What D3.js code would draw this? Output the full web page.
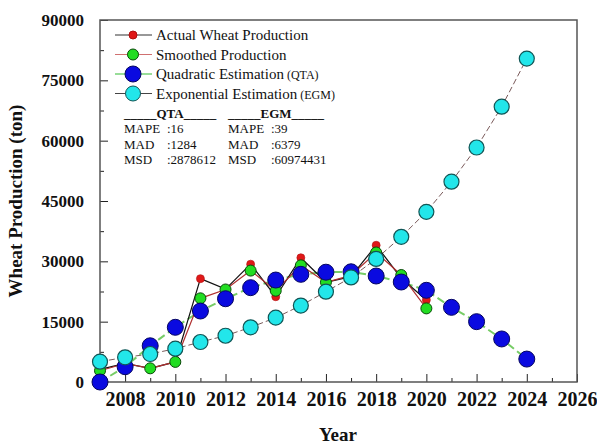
<!DOCTYPE html>
<html>
<head>
<meta charset="utf-8">
<script src="https://cdn.jsdelivr.net/npm/d3@7"></script>
<style>
  body { margin: 0; background: #fff; }
  svg text { font-family: "Liberation Serif", "Times New Roman", serif; }
</style>
</head>
<body>
<div id="chart"></div>
<script>
// data
const actualYears = [2007, 2008, 2009, 2010, 2011, 2012, 2013, 2014, 2015, 2016, 2017, 2018, 2019, 2020];
const actualValues = [3150, 4650, 3400, 5000, 25700, 23100, 29300, 21200, 30900, 24800, 26200, 34000, 25800, 20400];
const smoothedValues = [2800, 4600, 3400, 5000, 20800, 23000, 27700, 22700, 29000, 24800, 26500, 32200, 26600, 18300];

const forecastYears = [2007, 2008, 2009, 2010, 2011, 2012, 2013, 2014, 2015, 2016, 2017, 2018, 2019, 2020, 2021, 2022, 2023, 2024];
const qtaValues = [0, 3800, 9000, 13600, 17650, 20700, 23450, 25350, 26770, 27300, 27400, 26350, 24860, 22800, 18560, 15000, 10700, 5700];
const egmValues = [5050, 6130, 6960, 8280, 9940, 11500, 13600, 16000, 19000, 22450, 26000, 30600, 36100, 42300, 49800, 58300, 68450, 80400];

const yTicks = [0, 15000, 30000, 45000, 60000, 75000, 90000];
const xTicks = [2008, 2010, 2012, 2014, 2016, 2018, 2020, 2022, 2024, 2026];

const legendLabels = ["Actual Wheat Production", "Smoothed Production", "Quadratic Estimation", "Exponential Estimation"];
const legendTags = ["", "", "(QTA)", "(EGM)"];
const statNames = ["MAPE", "MAD", "MSD"];
const qtaStats = [":16", ":1284", ":2878612"];
const egmStats = [":39", ":6379", ":60974431"];

const W = 597, H = 444;
const margin = { left: 100, right: 20, top: 20, bottom: 62 };
const serif = "Liberation Serif, Times New Roman, serif";

const svg = d3.select("#chart").append("svg")
    .attr("width", W)
    .attr("height", H);

const x = d3.scaleLinear().domain([2007, 2026]).range([margin.left, W - margin.right]);
const y = d3.scaleLinear().domain([0, 90000]).range([H - margin.bottom, margin.top]);

// axes with inward ticks
const xMinor = d3.range(2007, 2026, 2);
const yMinor = d3.range(7500, 90000, 15000);

function styleTicks(g, size) {
    g.attr("font-family", serif);
    g.select(".domain").remove();
    g.selectAll("line").attr("stroke", "#222");
    g.selectAll("text").attr("font-size", size).attr("font-weight", "bold").attr("fill", "#111")
        .attr("font-family", serif);
}

svg.append("g")
    .attr("transform", `translate(0,${y(0)})`)
    .call(d3.axisBottom(x).tickValues(xTicks).tickFormat(d3.format("d")).tickSizeInner(-8).tickSizeOuter(0).tickPadding(10))
    .call(g => styleTicks(g, 20));

svg.append("g")
    .attr("transform", `translate(0,${y(0)})`)
    .call(d3.axisBottom(x).tickValues(xMinor).tickFormat("").tickSizeInner(-4).tickSizeOuter(0))
    .call(g => styleTicks(g, 10));

svg.append("g")
    .attr("transform", `translate(${x(2007)},0)`)
    .call(d3.axisLeft(y).tickValues(yTicks).tickFormat(d3.format("d")).tickSizeInner(-8).tickSizeOuter(0).tickPadding(16))
    .call(g => styleTicks(g, 17));

svg.append("g")
    .attr("transform", `translate(${x(2007)},0)`)
    .call(d3.axisLeft(y).tickValues(yMinor).tickFormat("").tickSizeInner(-4).tickSizeOuter(0))
    .call(g => styleTicks(g, 10));

// frame
svg.append("rect")
    .attr("x", x(2007)).attr("y", y(90000))
    .attr("width", x(2026) - x(2007)).attr("height", y(0) - y(90000))
    .attr("fill", "none").attr("stroke", "#555").attr("stroke-width", 1.5);

// axis titles
svg.append("text")
    .attr("x", 338).attr("y", 441)
    .attr("text-anchor", "middle")
    .attr("font-size", 19).attr("font-weight", "bold").attr("fill", "#111")
    .text("Year");

svg.append("text")
    .attr("transform", `translate(22,${(y(0) + y(90000)) / 2}) rotate(-90)`)
    .attr("text-anchor", "middle")
    .attr("font-size", 19).attr("font-weight", "bold").attr("fill", "#111")
    .text("Wheat Production (ton)");

const line = d3.line().x(d => x(d[0])).y(d => y(d[1]));
const plot = svg.append("g");

// Exponential line
plot.append("path")
    .datum(d3.zip(forecastYears, egmValues))
    .attr("d", line)
    .attr("fill", "none").attr("stroke", "#7a5a5a").attr("stroke-width", 1)
    .attr("stroke-dasharray", "6,3");

// Quadratic line
plot.append("path")
    .datum(d3.zip(forecastYears, qtaValues))
    .attr("d", line)
    .attr("fill", "none").attr("stroke", "#77cc66").attr("stroke-width", 2)
    .attr("stroke-dasharray", "8,4");

// Actual line
plot.append("path")
    .datum(d3.zip(actualYears, actualValues))
    .attr("d", line)
    .attr("fill", "none").attr("stroke", "#111").attr("stroke-width", 1.2);

// Smoothed line
plot.append("path")
    .datum(d3.zip(actualYears, smoothedValues))
    .attr("d", line)
    .attr("fill", "none").attr("stroke", "#b03030").attr("stroke-width", 1.2);

plot.selectAll(".actual").data(d3.zip(actualYears, actualValues)).join("circle")
    .attr("class", "actual")
    .attr("cx", d => x(d[0])).attr("cy", d => y(d[1])).attr("r", 4)
    .attr("fill", "#e01818").attr("stroke", "#b01010").attr("stroke-width", 0.6);

plot.selectAll(".smooth").data(d3.zip(actualYears, smoothedValues)).join("circle")
    .attr("class", "smooth")
    .attr("cx", d => x(d[0])).attr("cy", d => y(d[1])).attr("r", 5.5)
    .attr("fill", "#22dd22").attr("stroke", "#0a4a0a").attr("stroke-width", 1);

plot.selectAll(".qta").data(d3.zip(forecastYears, qtaValues)).join("circle")
    .attr("class", "qta")
    .attr("cx", d => x(d[0])).attr("cy", d => y(d[1])).attr("r", 8)
    .attr("fill", "#0a0ae0").attr("stroke", "#050560").attr("stroke-width", 1);

plot.selectAll(".egm").data(d3.zip(forecastYears, egmValues)).join("circle")
    .attr("class", "egm")
    .attr("cx", d => x(d[0])).attr("cy", d => y(d[1])).attr("r", 7.5)
    .attr("fill", "#22e6ea").attr("stroke", "#115555").attr("stroke-width", 1.2);

// legend
const legendStyles = [
    { line: "#333", fill: "#e01818", stroke: "#b01010", r: 4 },
    { line: "#d07070", fill: "#22dd22", stroke: "#0a4a0a", r: 5.5 },
    { line: "#33bb33", fill: "#0a0ae0", stroke: "#050560", r: 8 },
    { line: "#444", fill: "#22e6ea", stroke: "#115555", r: 7.5 }
];
const legendY = [35, 54.5, 74, 93.5];
const legend = svg.append("g");
legendLabels.forEach((label, i) => {
    const g = legend.append("g").attr("transform", `translate(0,${legendY[i]})`);
    g.append("line").attr("x1", 115).attr("x2", 152).attr("y1", 0).attr("y2", 0)
        .attr("stroke", legendStyles[i].line).attr("stroke-width", 1.2);
    g.append("circle").attr("cx", 133).attr("cy", 0).attr("r", legendStyles[i].r)
        .attr("fill", legendStyles[i].fill).attr("stroke", legendStyles[i].stroke).attr("stroke-width", 1);
    const t = g.append("text").attr("x", 156).attr("y", 5).attr("font-size", 15).attr("fill", "#111").text(label);
    if (legendTags[i]) t.append("tspan").attr("font-size", 12).text(" " + legendTags[i]);
});

// stats table
const tables = [
    { title: "_____QTA_____", x0: 124, x1: 167, vals: qtaStats },
    { title: "_____EGM_____", x0: 228, x1: 271, vals: egmStats }
];
tables.forEach(tb => {
    svg.append("text").attr("x", tb.x0).attr("y", 118).attr("font-size", 13).attr("font-weight", "bold")
        .attr("fill", "#111").text(tb.title);
    statNames.forEach((n, j) => {
        svg.append("text").attr("x", tb.x0).attr("y", 133 + j * 15.5).attr("font-size", 13).attr("fill", "#111").text(n);
        svg.append("text").attr("x", tb.x1).attr("y", 133 + j * 15.5).attr("font-size", 13).attr("fill", "#111").text(tb.vals[j]);
    });
});
</script>
</body>
</html>
